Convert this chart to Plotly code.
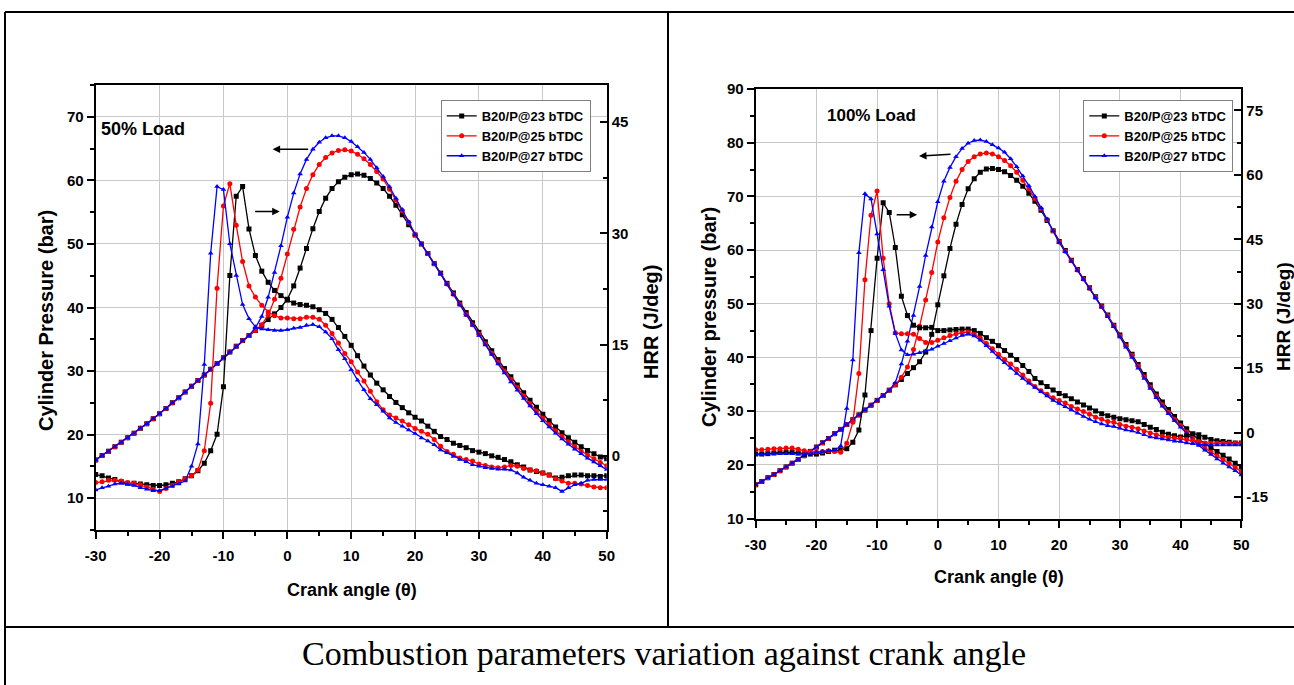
import plotly.graph_objects as go

W, H = 1294, 685

crank_angle = list(range(-30, 51))
x_tick_values = [-30, -20, -10, 0, 10, 20, 30, 40, 50]
x_tick_labels = ["-30", "-20", "-10", "0", "10", "20", "30", "40", "50"]
hrr50_tick_values = [0, 15, 30, 45]
hrr100_tick_values = [-15, 0, 15, 30, 45, 60, 75]

# ---------------- 50% load: cylinder pressure (bar) ----------------
p50_23 = [16.0, 16.7, 17.4, 18.1, 18.8, 19.5, 20.2, 21.0, 21.7, 22.5,
          23.3, 24.1, 25.0, 25.8, 26.7, 27.6, 28.5, 29.4, 30.3, 31.2,
          32.1, 33.0, 33.9, 34.8, 35.6, 36.4,
          37.2, 38.1, 39.0, 40.0, 41.3, 43.4, 46.2, 49.3, 52.4, 55.1,
          57.2, 58.7, 59.8, 60.5, 60.9, 61.0, 60.8, 60.3, 59.6, 58.7,
          57.5, 56.1, 54.6, 53.0, 51.4,
          50.0, 48.5, 46.9, 45.4, 43.8, 42.3, 40.7, 39.2, 37.6, 36.1,
          34.6, 33.2, 31.8, 30.4, 29.1, 27.8, 26.6, 25.4, 24.3, 23.2,
          22.2, 21.2, 20.3, 19.5, 18.8, 18.1, 17.5, 17.0, 16.5, 16.2]
p50_25 = [16.0, 16.7, 17.4, 18.1, 18.8, 19.5, 20.2, 21.0, 21.7, 22.5,
          23.3, 24.1, 25.0, 25.8, 26.7, 27.6, 28.5, 29.4, 30.3, 31.2,
          32.1, 33.0, 33.9, 34.8, 35.6, 36.4,
          37.3, 38.8, 41.3, 44.6, 48.4, 52.3, 55.8, 58.7, 60.9, 62.5,
          63.6, 64.3, 64.7, 64.8, 64.6, 64.1, 63.4, 62.5, 61.4, 60.2,
          58.6, 56.9, 55.2, 53.4, 51.5,
          50.0, 48.5, 46.9, 45.3, 43.7, 42.1, 40.5, 38.9, 37.3, 35.8,
          34.3, 32.8, 31.4, 30.0, 28.7, 27.4, 26.1, 24.9, 23.7, 22.6,
          21.6, 20.6, 19.7, 18.9, 18.1, 17.4, 16.8, 16.2, 15.6, 15.1]
p50_27 = [16.0, 16.7, 17.4, 18.1, 18.8, 19.5, 20.2, 21.0, 21.7, 22.5,
          23.3, 24.1, 25.0, 25.8, 26.7, 27.6, 28.5, 29.4, 30.3, 31.2,
          32.1, 33.0, 33.9, 34.8, 35.6, 36.8,
          38.6, 41.6, 45.5, 49.7, 54.2, 58.0, 61.0, 63.3, 64.9, 66.0,
          66.7, 67.0, 67.0, 66.7, 66.1, 65.3, 64.4, 63.3, 62.0, 60.6,
          59.0, 57.2, 55.4, 53.5, 51.5,
          50.0, 48.5, 46.9, 45.3, 43.6, 42.0, 40.4, 38.8, 37.2, 35.6,
          34.1, 32.6, 31.1, 29.7, 28.3, 27.0, 25.7, 24.5, 23.3, 22.2,
          21.2, 20.2, 19.3, 18.5, 17.7, 17.0, 16.3, 15.7, 15.1, 14.5]

# ---------------- 50% load: heat release rate (J/deg) ----------------
hrr50_23 = [-2.5, -2.7, -3.0, -3.2, -3.5, -3.7, -3.7, -3.8, -3.9, -4.0,
            -4.0, -3.9, -3.7, -3.5, -3.1, -2.7, -2.0, -1.0, 0.7, 2.9,
            9.3, 24.3, 35.0, 36.3, 30.6, 27.0, 24.9, 23.4, 22.3, 21.6,
            21.0, 20.6, 20.4, 20.3, 20.1, 19.7, 19.2, 18.4, 17.3, 16.1,
            14.9, 13.5, 12.1, 10.9, 9.8, 8.9, 8.0, 7.2, 6.5, 5.8,
            5.2, 4.7, 4.0, 3.3, 2.6, 2.2, 1.7, 1.4, 1.1, 0.7,
            0.5, 0.3, 0.0, -0.2, -0.5, -0.8, -1.2, -1.5, -1.9, -2.1,
            -2.3, -2.6, -3.0, -2.9, -2.7, -2.6, -2.6, -2.7, -2.7, -2.8,
            -2.7]
hrr50_25 = [-3.6, -3.5, -3.3, -3.3, -3.4, -3.6, -3.7, -3.9, -4.2, -4.5,
            -4.8, -4.4, -4.0, -3.5, -3.1, -2.7, -1.9, 0.7, 7.1, 22.6,
            33.7, 36.7, 31.1, 26.2, 22.9, 21.4, 20.3, 19.4, 18.9, 18.6,
            18.6, 18.5, 18.5, 18.7, 18.7, 18.4, 17.6, 16.5, 15.2, 13.8,
            12.7, 11.3, 10.1, 8.7, 7.3, 6.2, 5.5, 5.1, 4.7, 4.2,
            3.7, 3.3, 2.9, 2.2, 1.3, 0.6, 0.2, -0.3, -0.5, -0.7,
            -1.1, -1.3, -1.5, -1.6, -1.5, -1.3, -1.4, -1.7, -1.9, -2.0,
            -2.3, -2.6, -3.1, -3.4, -3.7, -3.7, -3.8, -4.0, -4.2, -4.3,
            -4.3]
hrr50_27 = [-4.6, -4.3, -4.1, -3.8, -3.7, -3.8, -4.0, -4.3, -4.5, -4.7,
            -4.7, -4.4, -4.1, -3.8, -3.4, -1.4, 1.6, 12.3, 27.3, 36.3,
            35.9, 28.6, 24.3, 20.4, 18.5, 17.4, 17.1, 17.0, 16.9, 16.9,
            17.0, 17.2, 17.3, 17.6, 17.7, 17.4, 16.7, 15.8, 14.3, 13.1,
            11.6, 10.2, 8.9, 7.7, 6.9, 6.0, 5.1, 4.5, 4.0, 3.5,
            3.0, 2.4, 2.0, 1.5, 0.8, 0.4, -0.1, -0.5, -0.8, -1.2,
            -1.4, -1.6, -1.7, -1.8, -1.8, -1.9, -2.3, -2.9, -3.3, -3.7,
            -3.9, -4.1, -4.3, -4.8, -4.3, -3.9, -3.7, -3.3, -3.2, -3.2,
            -3.2]

# ---------------- 100% load: cylinder pressure (bar) ----------------
p100_23 = [16.3, 16.9, 17.6, 18.2, 18.9, 19.6, 20.3, 21.0, 21.7, 22.5,
           23.3, 24.1, 24.9, 25.8, 26.6, 27.5, 28.4, 29.3, 30.2, 31.1,
           32.0, 32.9, 33.9, 34.9, 35.9, 37.0, 38.1,
           39.2, 41.0, 44.3, 49.8, 55.2, 60.3, 64.8, 68.5, 71.4, 73.3,
           74.5, 75.1, 75.2,
           75.0, 74.6, 73.9, 73.0, 71.9, 70.6, 69.1, 67.4, 65.5, 63.6,
           61.6,
           59.9, 58.1, 56.4, 54.7, 53.0, 51.3, 49.6, 47.9, 46.0, 44.2,
           42.4, 40.6, 38.7, 36.8, 34.9, 33.2, 31.7, 30.3, 29.0, 27.8,
           26.7, 25.6, 24.7, 23.9, 23.2, 22.5, 21.8, 21.1, 20.3, 19.6]
p100_25 = [16.3, 16.9, 17.6, 18.2, 18.9, 19.6, 20.3, 21.0, 21.7, 22.5,
           23.3, 24.1, 24.9, 25.8, 26.6, 27.5, 28.4, 29.3, 30.2, 31.1,
           32.0, 32.9, 33.9, 34.9,
           36.3, 38.2, 41.5, 45.8, 50.7, 55.8, 61.5, 66.0, 69.8, 72.8,
           75.0, 76.5, 77.4, 77.9, 78.1, 77.9,
           77.4, 76.7, 75.7, 74.5, 73.0, 71.4, 69.6, 67.7, 65.7, 63.6,
           61.5,
           59.8, 58.0, 56.3, 54.6, 52.9, 51.2, 49.5, 47.8, 45.9, 44.0,
           42.2, 40.4, 38.4, 36.4, 34.5, 32.8, 31.2, 29.8, 28.5, 27.3,
           26.1, 24.9, 23.9, 23.1, 22.4, 21.7, 21.0, 20.3, 19.5, 18.7]
p100_27 = [16.3, 16.9, 17.6, 18.2, 18.9, 19.6, 20.3, 21.0, 21.7, 22.5,
           23.3, 24.1, 24.9, 25.8, 26.6, 27.5, 28.4, 29.3, 30.2, 31.1,
           32.0, 32.9, 33.9,
           35.3, 38.8, 43.0, 47.8, 53.2, 59.0, 64.3, 69.0, 72.8, 75.4,
           77.4, 78.9, 79.9, 80.4, 80.5, 80.2, 79.6,
           79.0, 78.2, 77.0, 75.5, 73.8, 72.0, 70.0, 67.9, 65.8, 63.6,
           61.4,
           59.7, 57.9, 56.2, 54.5, 52.8, 51.1, 49.4, 47.6, 45.7, 43.8,
           41.9, 40.0, 38.0, 36.1, 34.2, 32.5, 30.9, 29.5, 28.2, 27.0,
           25.8, 24.6, 23.6, 22.7, 21.9, 21.1, 20.3, 19.6, 18.9, 18.1]

# ---------------- 100% load: heat release rate (J/deg) ----------------
hrr100_23 = [-5.0, -5.0, -4.9, -4.75, -4.6, -4.6, -4.6, -4.75, -5.0, -5.0,
             -5.0, -4.75, -4.4, -4.1, -4.0, -3.75, -2.25, 0.6, 8.75, 23.75,
             40.6, 53.5, 51.25, 43.1, 31.75, 27.25, 25.0, 24.4, 24.4, 24.5,
             23.75, 23.75, 23.9, 24.0, 24.1, 24.1, 23.75, 23.1, 22.1, 21.25,
             20.25, 19.1, 18.0, 17.0, 15.6, 14.25, 12.6, 11.6, 10.75, 9.9,
             9.1, 8.6, 7.9, 7.1, 6.4, 5.75, 5.0, 4.4, 3.9, 3.6,
             3.25, 3.0, 2.75, 2.5, 1.9, 1.25, 0.75, 0.1, -0.4, -0.75,
             -1.0, -0.75, -0.25, -0.5, -1.1, -1.6, -1.9, -2.1, -2.25, -2.4,
             -2.4]
hrr100_25 = [-4.0, -4.0, -3.9, -3.75, -3.75, -3.6, -3.6, -3.9, -4.25, -4.5,
             -4.5, -4.4, -4.25, -4.4, -4.6, -2.5, 2.4, 13.75, 35.6, 50.6,
             56.25, 40.6, 30.0, 23.25, 23.0, 23.0, 22.9, 21.9, 21.0, 21.0,
             21.5, 22.1, 22.6, 23.0, 23.25, 23.4, 22.9, 22.0, 20.75, 19.5,
             18.25, 17.0, 16.0, 14.75, 13.4, 12.0, 10.75, 9.75, 8.9, 8.1,
             7.5, 6.9, 6.1, 5.5, 4.9, 4.25, 3.6, 3.1, 2.6, 2.4,
             1.9, 1.5, 1.25, 0.9, 0.4, -0.1, -0.5, -0.9, -1.1, -1.25,
             -1.4, -1.6, -1.9, -2.1, -2.4, -2.5, -2.5, -2.5, -2.5, -2.5,
             -2.5]
hrr100_27 = [-5.1, -5.1, -5.0, -4.9, -4.9, -4.9, -4.9, -5.0, -5.0, -4.9,
             -4.6, -4.4, -4.25, -4.1, -3.1, 5.6, 16.9, 41.9, 55.6, 54.4,
             46.25, 37.9, 29.4, 23.1, 19.25, 18.1, 18.25, 18.6, 19.0, 19.4,
             20.1, 20.75, 21.4, 22.0, 22.6, 22.9, 22.5, 21.5, 20.25, 18.9,
             17.5, 16.25, 15.0, 13.75, 12.6, 11.5, 10.5, 9.5, 8.5, 7.5,
             6.75, 6.0, 5.25, 4.5, 3.75, 3.1, 2.5, 2.0, 1.6, 1.4,
             1.0, 0.6, 0.4, 0.0, -0.5, -1.0, -1.25, -1.5, -1.75, -2.0,
             -2.1, -2.4, -2.6, -2.75, -2.9, -2.9, -2.9, -2.9, -2.9, -2.9,
             -2.9]

series_names = ["B20/P@23 bTDC", "B20/P@25 bTDC", "B20/P@27 bTDC"]
series_colors = ["#000000", "#ff0000", "#0000ff"]
series_symbols = ["square", "circle", "triangle-up"]

FONT = "Arial, Liberation Sans, sans-serif"


def px(x):
    return x / W


def py(y):
    return 1 - y / H


fig = go.Figure()

left_sets = [(p50_23, hrr50_23), (p50_25, hrr50_25), (p50_27, hrr50_27)]
right_sets = [(p100_23, hrr100_23), (p100_25, hrr100_25), (p100_27, hrr100_27)]

for (xa, ya_p, ya_h, leg, sets) in [("x", "y", "y2", "legend", left_sets),
                                     ("x2", "y3", "y4", "legend2", right_sets)]:
    for name, col, sym, (pv, hv) in zip(series_names, series_colors, series_symbols, sets):
        fig.add_trace(go.Scatter(
            x=crank_angle, y=pv, xaxis=xa, yaxis=ya_p, name=name,
            mode="lines+markers", legend=leg,
            line=dict(color=col, width=1.3),
            marker=dict(symbol=sym, size=5, color=col)))
        fig.add_trace(go.Scatter(
            x=crank_angle, y=hv, xaxis=xa, yaxis=ya_h, name=name,
            mode="lines+markers", showlegend=False, legend=leg,
            line=dict(color=col, width=1.3),
            marker=dict(symbol=sym, size=5, color=col)))

tickfont = dict(family=FONT, size=15, color="black", weight="bold")
grid = "#c8c8c8"


def xaxis_cfg(domain, anchor):
    return dict(domain=domain, anchor=anchor, range=[-30, 50], tickmode="array",
                tickvals=x_tick_values, ticktext=x_tick_labels,
                ticks="outside", ticklen=7, tickwidth=1.5, tickcolor="black",
                minor=dict(tickmode="linear", tick0=-30, dtick=5, ticks="outside",
                           ticklen=4, tickwidth=1.5, tickcolor="black", showgrid=False),
                showline=True, linecolor="black", linewidth=2, mirror=True,
                showgrid=True, gridcolor=grid, gridwidth=1, zeroline=False,
                tickfont=tickfont, ticklabelstandoff=4, automargin=False)


def yleft_cfg(domain, anchor, rng):
    return dict(domain=domain, anchor=anchor, range=rng, tickmode="linear",
                tick0=0, dtick=10, ticks="outside", ticklen=7, tickwidth=1.5,
                tickcolor="black",
                minor=dict(dtick=5, ticks="outside", ticklen=4, tickwidth=1.5,
                           tickcolor="black", showgrid=False),
                showline=True, linecolor="black", linewidth=2, mirror=True,
                showgrid=True, gridcolor=grid, gridwidth=1, zeroline=False,
                tickfont=tickfont, automargin=False)


def yright_cfg(over, anchor, rng, vals):
    return dict(overlaying=over, side="right", anchor=anchor, range=rng,
                tickmode="array", tickvals=vals,
                ticktext=[str(v) for v in vals],
                ticks="inside", ticklen=7, tickwidth=1.5, tickcolor="black",
                minor=dict(tickmode="linear", tick0=0, dtick=7.5, ticks="inside",
                           ticklen=4, tickwidth=1.5, tickcolor="black", showgrid=False),
                showline=False, showgrid=False, zeroline=False, tickfont=tickfont,
                ticklabelstandoff=4, automargin=False)


def xtop_cfg(over, anchor, vals):
    return dict(overlaying=over, side="top", anchor=anchor, range=[-30, 50],
                tickmode="array", tickvals=vals, ticks="inside", ticklen=8,
                tickwidth=1.5, tickcolor="black", showticklabels=False,
                showgrid=False, showline=False, zeroline=False, automargin=False)


L_dom_x = [px(95.7), px(606.7)]
L_dom_y = [py(530), py(85)]
R_dom_x = [px(755.7), px(1241.3)]
R_dom_y = [py(518.5), py(89)]

legend_common = dict(xanchor="left", yanchor="top", bgcolor="white",
                     bordercolor="#808080", borderwidth=1,
                     font=dict(family=FONT, size=13, color="black", weight="bold"),
                     tracegroupgap=0, itemwidth=30)


def label(text, x, y, size, angle=0, xanchor="center", family=FONT, weight="bold"):
    return dict(text=text, x=px(x), y=py(y), xref="paper", yref="paper",
                xanchor=xanchor, yanchor="middle", textangle=angle, showarrow=False,
                font=dict(family=family, size=size, color="black", weight=weight))


annotations = [
    label("50% Load", 99, 129, 18, xanchor="left"),
    label("100% Load", 871.5, 115.7, 17),
    label("Cylinder Pressure (bar)", 46, 321, 20, angle=-90),
    label("HRR (J/deg)", 651, 322, 20, angle=-90),
    label("Crank angle (θ)", 352, 590, 18),
    label("Cylinder pressure (bar)", 709, 317, 20, angle=-90),
    label("HRR (J/deg)", 1283, 317, 19, angle=-90),
    label("Crank angle (θ)", 999, 577, 18),
    label("Combustion parameters variation against crank angle", 664, 653, 34,
          family="Liberation Serif, Times New Roman, serif", weight="normal"),
    # arrows
    dict(text="", x=-2.3, y=64.9, xref="x", yref="y", ax=37, ay=0,
         showarrow=True, arrowhead=2, arrowsize=1, arrowwidth=1.5, arrowcolor="black"),
    dict(text="", x=-1.2, y=55.1, xref="x", yref="y", ax=-26, ay=0,
         showarrow=True, arrowhead=2, arrowsize=1, arrowwidth=1.5, arrowcolor="black"),
    dict(text="", x=-3.1, y=77.5, xref="x2", yref="y3", ax=33, ay=-2,
         showarrow=True, arrowhead=2, arrowsize=1, arrowwidth=1.5, arrowcolor="black"),
    dict(text="", x=-3.4, y=66.6, xref="x2", yref="y3", ax=-22, ay=0,
         showarrow=True, arrowhead=2, arrowsize=1, arrowwidth=1.5, arrowcolor="black"),
]

line_style = dict(color="black", width=2)
shapes = [
    dict(type="line", xref="paper", yref="paper", x0=px(5), x1=1, y0=py(12), y1=py(12), line=line_style),
    dict(type="line", xref="paper", yref="paper", x0=px(5), x1=px(5), y0=py(12), y1=0, line=line_style),
    dict(type="line", xref="paper", yref="paper", x0=px(668), x1=px(668), y0=py(12), y1=py(627), line=line_style),
    dict(type="line", xref="paper", yref="paper", x0=px(5), x1=1, y0=py(627), y1=py(627), line=line_style),
]

fig.update_layout(
    width=W, height=H, margin=dict(l=0, r=0, t=0, b=0, autoexpand=False),
    paper_bgcolor="white", plot_bgcolor="white",
    xaxis=xaxis_cfg(L_dom_x, "y"),
    yaxis=yleft_cfg(L_dom_y, "x", [5, 75]),
    yaxis2=yright_cfg("y", "x", [-10, 50], hrr50_tick_values),
    xaxis2=xaxis_cfg(R_dom_x, "y3"),
    yaxis3=yleft_cfg(R_dom_y, "x2", [10, 90]),
    yaxis4=yright_cfg("y3", "x2", [-20, 80], hrr100_tick_values),
    xaxis3=xtop_cfg("x", "y", [-26.3, -8.1, 10.1, 28.4, 46.7]),
    xaxis4=xtop_cfg("x2", "y3", [-26.3, -8.2, 9.9, 28.2, 46.4]),
    legend=dict(x=px(440.7), y=py(100), **legend_common),
    legend2=dict(x=px(1083.3), y=py(100), **legend_common),
    annotations=annotations,
    shapes=shapes,
    showlegend=True,
)

fig.write_html("out.html",
               config={"displayModeBar": False},
               post_script="document.body.style.margin='0px';"
                           "document.body.style.overflow='hidden';")
